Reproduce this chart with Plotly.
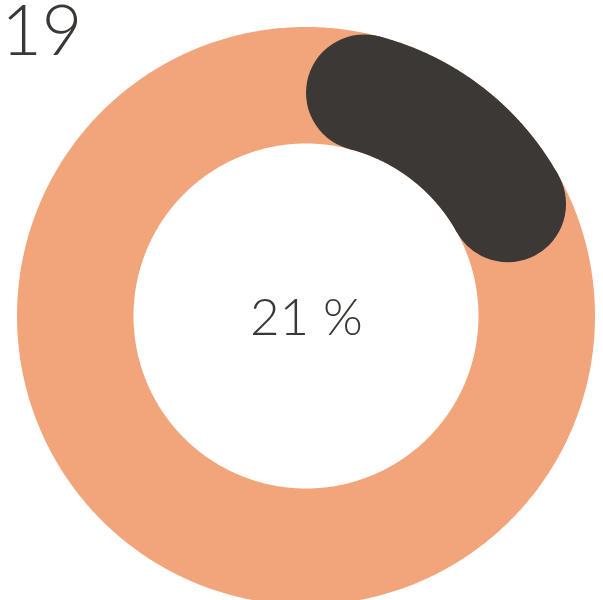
import numpy as np
import plotly.graph_objects as go

# ---- data ----
year_label = "2019"
share_values = [21]          # percent shown by the dark arc
center_label = "21 %"

# ---- geometry / style (pixels) ----
W, H = 603, 600
CX, CY = 306, 316            # ring centre (px from left / top)
R_OUT, R_IN = 289, 172.5     # ring radii (track and progress arc share them)
ORANGE = "#F2A57B"
DARK = "#3C3835"
TEXT = "#3B3734"


def polar_xy(r, theta_deg):
    t = np.radians(theta_deg)
    return r * np.sin(t), r * np.cos(t)


fig = go.Figure()

# orange track (full ring) as a filled annulus
th = np.linspace(0, 360, 721)
xo, yo = polar_xy(R_OUT, th)
xi, yi = polar_xy(R_IN, th[::-1])
fig.add_trace(go.Scatter(x=np.concatenate([xo, xi]), y=np.concatenate([yo, yi]),
                         mode="lines", fill="toself", fillcolor=ORANGE,
                         line=dict(color=ORANGE, width=0, simplify=False),
                         hoverinfo="skip", showlegend=False))

# dark progress arc with round caps (total extent = share of 360 degrees)
arc_r = (R_OUT + R_IN) / 2
arc_w = R_OUT - R_IN
cap_deg = np.degrees(np.arcsin((arc_w / 2) / arc_r))
end_deg = share_values[0] / 100 * 360
th = np.linspace(cap_deg, end_deg - cap_deg, 300)
x, y = polar_xy(arc_r, th)
fig.add_trace(go.Scatter(x=x, y=y, mode="lines",
                         line=dict(color=DARK, width=arc_w, simplify=False),
                         hoverinfo="skip", showlegend=False))
xe, ye = polar_xy(arc_r, np.array([th[0], th[-1]]))
fig.add_trace(go.Scatter(x=xe, y=ye, mode="markers",
                         marker=dict(color=DARK, size=arc_w, line=dict(width=0)),
                         hoverinfo="skip", showlegend=False))

fig.add_annotation(x=0, y=1, xref="x", yref="y", text=center_label,
                   showarrow=False, xanchor="center", yanchor="middle",
                   font=dict(family="Lato", size=51, color=TEXT, weight=300))
fig.add_annotation(x=84 - CX, y=CY - 28, xref="x", yref="y", text=year_label,
                   showarrow=False, xanchor="right", yanchor="middle",
                   font=dict(family="Lato", size=70, color=TEXT, weight=300))

fig.update_layout(
    width=W, height=H,
    margin=dict(l=0, r=0, t=0, b=0),
    paper_bgcolor="white", plot_bgcolor="white",
    xaxis=dict(range=[-CX, W - CX], visible=False, fixedrange=True),
    yaxis=dict(range=[-(H - CY), CY], visible=False, fixedrange=True),
    showlegend=False,
)

fig.write_html("out.html")
